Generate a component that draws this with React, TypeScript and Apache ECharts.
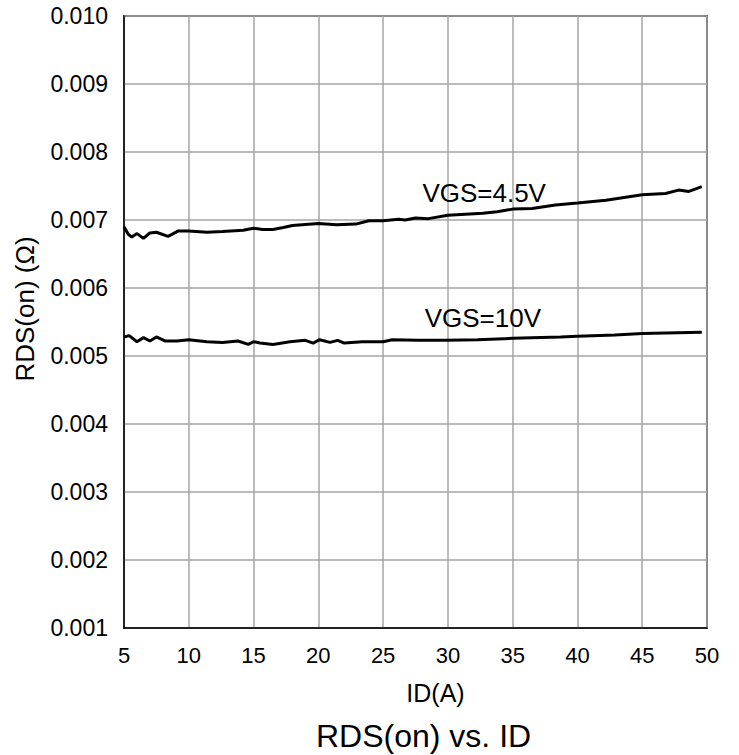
import React, { useEffect, useRef } from "react";
import * as echarts from "echarts";

const vgs45X = [5, 5.33, 5.6, 6, 6.5, 7, 7.5, 8.4, 9.2, 10, 11.4, 12.6, 14.2, 15, 15.7, 16.5, 17.3, 18, 20, 21.4, 22.9, 23.9, 25, 26.2, 26.7, 27.5, 28.5, 30, 32.7, 33.8, 35, 36.5, 38.3, 40, 42.2, 45, 46.8, 47.8, 48.6, 49.6];
const vgs45Y = [0.0069, 0.00679, 0.00675, 0.0068, 0.00673, 0.00681, 0.00682, 0.00676, 0.00684, 0.00684, 0.00682, 0.00683, 0.00685, 0.00688, 0.00686, 0.00686, 0.00689, 0.00692, 0.00695, 0.00693, 0.00694, 0.00699, 0.00699, 0.00701, 0.007, 0.00703, 0.00702, 0.00707, 0.0071, 0.00712, 0.00716, 0.00717, 0.00722, 0.00725, 0.00729, 0.00737, 0.00739, 0.00744, 0.00742, 0.00749];

const vgs10X = [5, 5.4, 6, 6.5, 7, 7.5, 8.2, 9.1, 10, 11.4, 12.6, 13.8, 14.6, 15, 15.5, 16.5, 17.8, 19, 19.6, 20.1, 20.9, 21.5, 22, 23.4, 25, 25.7, 27.7, 29.8, 32.3, 35, 38.7, 40, 42.9, 45, 46.8, 49.6];
const vgs10Y = [0.00528, 0.0053, 0.00521, 0.00527, 0.00522, 0.00528, 0.00522, 0.00522, 0.00524, 0.00521, 0.0052, 0.00522, 0.00517, 0.00521, 0.00519, 0.00517, 0.00521, 0.00523, 0.00519, 0.00524, 0.0052, 0.00523, 0.00519, 0.00521, 0.00521, 0.00524, 0.00523, 0.00523, 0.00524, 0.00526, 0.00528, 0.00529, 0.00531, 0.00533, 0.00534, 0.00535];

const seriesNames = ["VGS=4.5V", "VGS=10V"];
const labelPos: [number, number][] = [[32.8, 0.007394], [32.7, 0.005566]];

const xTicks = { min: 5, max: 50, interval: 5 };
const yTicks = { min: 0.001, max: 0.01, interval: 0.001 };

export default function App() {
  const ref = useRef<HTMLDivElement>(null);
  useEffect(() => {
    if (!ref.current) return;
    const chart = echarts.init(ref.current, undefined, { renderer: "svg" });
    const font = "Liberation Sans, Arial, sans-serif";
    const mk = (xs: number[], ys: number[], i: number) => ({
      type: "line",
      name: seriesNames[i],
      data: xs.map((x, k) => [x, ys[k]]),
      showSymbol: false,
      symbol: "none",
      lineStyle: { color: "#000", width: 3 },
      markPoint: {
        symbol: "circle",
        symbolSize: 0,
        data: [{ coord: labelPos[i], value: seriesNames[i] }],
        label: {
          show: true,
          formatter: seriesNames[i],
          color: "#000",
          fontSize: 26,
          fontFamily: font,
          position: "inside",
        },
      },
    });
    chart.setOption({
      animation: false,
      backgroundColor: "#fff",
      title: {
        text: "RDS(on) vs. ID",
        left: 316,
        top: 720,
        padding: 0,
        textStyle: { fontSize: 32, fontWeight: "normal", color: "#000", fontFamily: font },
      },
      grid: {
        left: 124,
        right: 32,
        top: 16,
        bottom: 127,
        show: true,
        borderColor: "#000",
        borderWidth: 1.5,
        backgroundColor: "transparent",
      },
      xAxis: {
        type: "value",
        min: xTicks.min,
        max: xTicks.max,
        interval: xTicks.interval,
        name: "ID(A)",
        nameLocation: "middle",
        nameGap: 52,
        nameTextStyle: { fontSize: 25, color: "#000", fontFamily: font, padding: [0, 0, 0, 40] },
        axisLine: { show: true, lineStyle: { color: "#000", width: 1.5 } },
        axisTick: { show: false },
        axisLabel: { fontSize: 22, color: "#000", margin: 16, fontFamily: font },
        splitLine: { show: true, lineStyle: { color: "#a6a6a6", width: 1.5 } },
      },
      yAxis: {
        type: "value",
        min: yTicks.min,
        max: yTicks.max,
        interval: yTicks.interval,
        name: "RDS(on) (Ω)",
        nameLocation: "middle",
        nameGap: 86,
        nameTextStyle: { fontSize: 26, color: "#000", fontFamily: font, padding: [0, 0, 0, 26] },
        axisLine: { show: true, lineStyle: { color: "#000", width: 1.5 } },
        axisTick: { show: false },
        axisLabel: {
          fontSize: 23,
          color: "#000",
          margin: 16,
          fontFamily: font,
          formatter: (v: number) => v.toFixed(3),
        },
        splitLine: { show: true, lineStyle: { color: "#a6a6a6", width: 1.5 } },
      },
      series: [mk(vgs45X, vgs45Y, 0), mk(vgs10X, vgs10Y, 1)],
    });
    return () => chart.dispose();
  }, []);
  return (
    <div
      ref={ref}
      style={{ position: "fixed", left: 0, top: 0, width: 739, height: 755 }}
    />
  );
}
